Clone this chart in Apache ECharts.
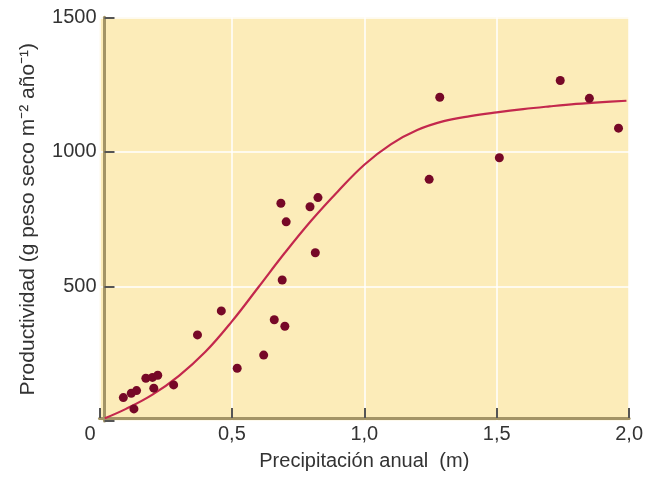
<!DOCTYPE html>
<html>
<head>
<meta charset="utf-8">
<script src="https://cdn.jsdelivr.net/npm/echarts@6/dist/echarts.min.js"></script>
<style>
  html, body { margin: 0; padding: 0; background: #ffffff; }
  #main { width: 646px; height: 477px; }
</style>
</head>
<body>
<div id="main"></div>
<script type="text/javascript">
// observed data: annual precipitation (m) vs productivity
var precipX = [0.09, 0.12, 0.14, 0.13, 0.175, 0.20, 0.22, 0.205, 0.28,
               0.37, 0.46, 0.52, 0.62, 0.66, 0.70, 0.69, 0.685, 0.705, 0.795, 0.825, 0.815,
               1.245, 1.285, 1.51, 1.74, 1.85, 1.96];
var prodY = [87, 103, 113, 45, 159, 162, 170, 122, 134,
             320, 409, 196, 245, 376, 352, 524, 809, 740, 796, 830, 625,
             898, 1203, 978, 1265, 1199, 1088];

// fitted curve
var curveX = [0.02, 0.1, 0.2, 0.3, 0.4, 0.5, 0.6, 0.7, 0.8, 0.9, 1.0,
              1.1, 1.2, 1.3, 1.4, 1.5, 1.6, 1.7, 1.8, 1.9, 1.99];
var curveY = [10, 45, 98, 168, 257, 370, 497, 625, 745, 853, 952,
              1028, 1081, 1114, 1133, 1147, 1159, 1169, 1178, 1185, 1190];

var points = precipX.map(function (x, i) { return [x, prodY[i]]; });
var curve = curveX.map(function (x, i) { return [x, curveY[i]]; });

var myChart = echarts.init(document.getElementById('main'));
var option = {
    animation: false,
    grid: {
        left: 99.5,
        right: 14,
        top: 17.3,
        bottom: 56,
        show: true,
        backgroundColor: '#fcecb9',
        borderWidth: 0
    },
    xAxis: {
        type: 'value',
        min: 0,
        max: 2,
        interval: 0.5,
        offset: -3,
        name: 'Precipitación anual  (m)',
        nameLocation: 'middle',
        nameGap: 33,
        nameTextStyle: { fontFamily: 'Liberation Sans', fontSize: 20, color: '#333333' },
        axisLine: { show: true, lineStyle: { color: '#a39466', width: 3 } },
        axisTick: { show: true, inside: true, length: 10, lineStyle: { color: '#555555', width: 2 } },
        axisLabel: {
            margin: 6,
            fontFamily: 'Liberation Sans',
            fontSize: 20,
            color: '#333333',
            formatter: function (v) {
                if (v === 0) return '{z|0}';
                return v.toFixed(1).replace('.', ',');
            },
            rich: {
                z: { fontFamily: 'Liberation Sans', fontSize: 20, color: '#333333', padding: [0, 19, 0, 0] }
            }
        },
        splitLine: { show: true, lineStyle: { color: '#ffffff', width: 1.5 } }
    },
    yAxis: {
        type: 'value',
        min: 0,
        max: 1500,
        interval: 500,
        offset: -5,
        name: 'Productividad (g peso seco m\u207B\u00B2 año\u207B\u00B9)',
        nameLocation: 'middle',
        nameGap: 66,
        nameTextStyle: { fontFamily: 'Liberation Sans', fontSize: 21, color: '#333333' },
        axisLine: { show: true, lineStyle: { color: '#a39466', width: 3 } },
        axisTick: { show: true, inside: true, length: 10, lineStyle: { color: '#555555', width: 2 } },
        axisLabel: {
            margin: 8,
            fontFamily: 'Liberation Sans',
            fontSize: 20,
            color: '#333333',
            formatter: function (v) { return v === 0 ? '' : String(v); }
        },
        splitLine: { show: true, lineStyle: { color: '#ffffff', width: 1.5 } }
    },
    series: [
        {
            type: 'line',
            data: curve,
            smooth: 0.4,
            showSymbol: false,
            symbol: 'none',
            lineStyle: { color: '#c3284d', width: 2.2 },
            z: 2
        },
        {
            type: 'scatter',
            data: points,
            symbolSize: 9,
            itemStyle: { color: '#760827', opacity: 1 },
            z: 3
        }
    ]
};
myChart.setOption(option);
</script>
</body>
</html>
